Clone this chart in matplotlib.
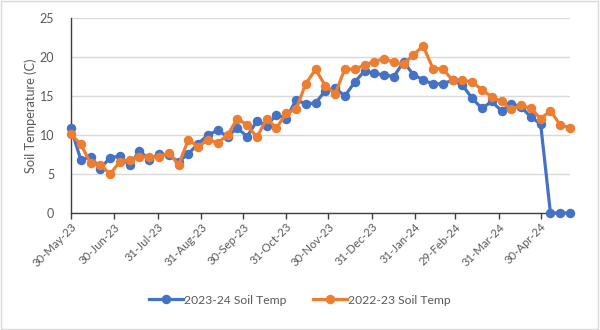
import matplotlib
matplotlib.use("Agg")
import matplotlib.pyplot as plt
import matplotlib.dates as mdates
from matplotlib.patches import Rectangle
import pandas as pd

plt.rcParams['font.family'] = ['Lato', 'DejaVu Sans']

# Weekly sample dates
dates = pd.date_range('2023-05-30', periods=52, freq='7D')

temp_2023_24 = [10.9, 6.8, 7.2, 5.7, 7.1, 7.3, 6.1, 8.0, 6.8, 7.6,
                7.4, 6.6, 7.6, 8.9, 10.0, 10.6, 9.8, 10.9, 9.8, 11.8,
                11.2, 12.6, 12.1, 14.5, 14.0, 14.1, 15.7, 16.0, 15.0, 16.8,
                18.2, 17.9, 17.7, 17.5, 19.4, 17.7, 17.1, 16.5, 16.6, 17.0,
                16.4, 14.7, 13.4, 14.3, 13.1, 14.0, 13.6, 12.3, 11.4, 0.0,
                0.0, 0.0]

temp_2022_23 = [10.1, 8.8, 6.4, 6.2, 5.0, 6.6, 6.8, 7.2, 7.2, 7.2,
                7.7, 6.2, 9.4, 8.5, 9.4, 9.0, 10.0, 12.1, 11.3, 9.7,
                12.1, 10.9, 12.8, 13.3, 16.6, 18.4, 16.3, 15.3, 18.5, 18.4,
                19.0, 19.4, 19.8, 19.3, 19.1, 20.3, 21.4, 18.5, 18.5, 17.0,
                17.0, 16.8, 15.8, 14.9, 14.3, 13.3, 13.8, 13.4, 12.1, 13.1,
                11.3, 10.9]

tick_dates = ['2023-05-30', '2023-06-30', '2023-07-31', '2023-08-31',
              '2023-09-30', '2023-10-31', '2023-11-30', '2023-12-31',
              '2024-01-31', '2024-02-29', '2024-03-31', '2024-04-30']

series_labels = ['2023-24 Soil Temp', '2022-23 Soil Temp']
y_label = 'Soil Temperature (C)'

BLUE = '#4472C4'
ORANGE = '#ED7D31'
TXT = '#595959'

fig = plt.figure(figsize=(6.0, 3.3), dpi=100)
ax = fig.add_axes([71/600, 1 - 213/330, (570 - 71)/600, (213 - 18)/330])

ax.plot(dates, temp_2023_24, color=BLUE, lw=2.3, marker='o', ms=5.8,
        label=series_labels[0], clip_on=False, zorder=3)
ax.plot(dates, temp_2022_23, color=ORANGE, lw=2.3, marker='o', ms=5.8,
        label=series_labels[1], clip_on=False, zorder=4)

ax.set_ylim(0, 25)
ax.set_yticks([0, 5, 10, 15, 20, 25])
ax.set_xlim(dates[0], dates[-1])
td = pd.to_datetime(tick_dates)
ax.set_xticks(td)
ax.xaxis.set_major_formatter(mdates.DateFormatter('%d-%b-%y'))

ax.grid(axis='y', color='#D9D9D9', lw=1)
ax.set_axisbelow(True)
for s in ['top', 'right']:
    ax.spines[s].set_visible(False)
for s in ['left', 'bottom']:
    ax.spines[s].set_color('#404040')
    ax.spines[s].set_linewidth(1.0)

ax.tick_params(axis='y', length=0, pad=12, labelsize=9, labelcolor=TXT)
ax.tick_params(axis='x', length=4, width=1, color='#404040', direction='out',
               labelsize=8.2, labelcolor=TXT, pad=2)
for lbl in ax.get_xticklabels():
    lbl.set_rotation(45)
    lbl.set_ha('right')
    lbl.set_rotation_mode('anchor')

ax.set_ylabel(y_label, color=TXT, fontsize=9.2, labelpad=2)

leg = fig.legend(loc='center', bbox_to_anchor=(0.5, 1 - 300/330), ncol=2,
                 frameon=False, fontsize=8.7, handlelength=2.8,
                 columnspacing=2.2, handletextpad=0.1)
for t in leg.get_texts():
    t.set_color(TXT)

fig.patches.append(Rectangle((0.002, 0.003), 0.995, 0.993, transform=fig.transFigure,
                             fill=False, edgecolor='#D9D9D9', lw=1))

fig.savefig('out.png', dpi=100)
